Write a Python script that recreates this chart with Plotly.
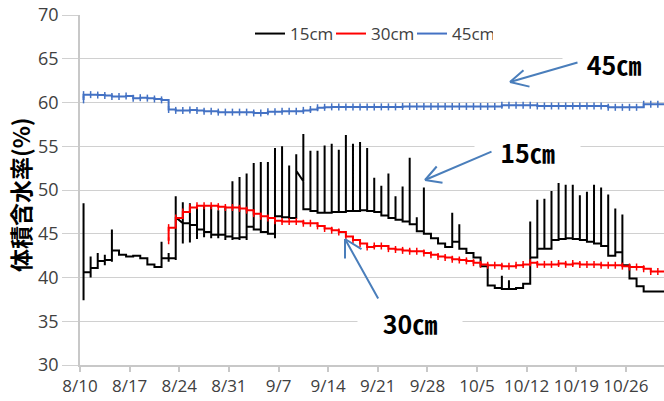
import plotly.graph_objects as go
import pandas as pd

# ---------------- data ----------------
base_date = "2013-08-10"
tick_dates = ["2013-08-10", "2013-08-17", "2013-08-24", "2013-08-31", "2013-09-07",
              "2013-09-14", "2013-09-21", "2013-09-28", "2013-10-05", "2013-10-12",
              "2013-10-19", "2013-10-26"]
tick_labels = ["8/10", "8/17", "8/24", "8/31", "9/7", "9/14", "9/21", "9/28",
               "10/5", "10/12", "10/19", "10/26"]

# 15cm : daily level, daily peak, daily dip, and level at end of day (where it drifted)
lvl15 = [40.6, 41.1, 41.9, 42.0, 43.1, 42.6, 42.4, 42.5, 42.2, 41.5,
         41.2, 42.2, 42.2, 46.9, 46.2, 46.0, 45.5, 45.2, 44.9, 44.9,
         44.7, 44.5, 44.6, 45.8, 45.5, 45.2, 45.0, 47.0, 46.9, 46.8,
         52.2, 47.8, 47.6, 47.4, 47.4, 47.5, 47.5, 47.6, 47.6, 47.7,
         47.6, 47.5, 47.1, 46.8, 46.6, 46.4, 46.1, 45.3, 45.0, 44.5,
         43.9, 43.5, 44.1, 43.3, 42.8, 42.3, 41.3, 39.1, 38.8, 38.7,
         38.7, 38.8, 39.3, 42.3, 43.3, 43.3, 44.3, 44.4, 44.5, 44.4,
         44.3, 44.1, 43.9, 43.6, 42.5, 42.9, 41.4, 39.9, 39.0, 38.4,
         38.4, 38.4, 38.4]
hi15 = [48.5, 42.4, 42.8, 42.6, 45.5, None, None, None, None, None,
        None, 44.1, 42.8, 49.3, 48.6, 48.5, 48.2, 48.3, 48.2, 47.7,
        48.0, 51.0, 51.5, 51.9, 53.1, 53.2, 53.2, 54.8, 55.0, 52.8,
        54.1, 56.4, 54.5, 54.5, 55.1, 55.3, 54.6, 56.3, 55.3, 55.5,
        54.8, 51.4, 50.5, 51.9, 49.3, 50.4, 53.7, 46.9, 50.3, None,
        None, None, 47.4, 46.1, None, None, None, None, None, 40.2,
        39.7, None, None, 46.4, 48.9, 49.0, 49.9, 50.8, 50.6, 50.6,
        49.4, 49.8, 50.6, 50.3, 49.5, 47.9, 47.2, None, None, None,
        None, None, None]
lo15 = [37.4, 40.0, 41.2, 41.4, 41.8, None, None, None, None, None,
        None, 41.1, 41.8, 42.0, 43.9, 44.0, 44.4, 44.6, 44.5, 44.5,
        44.3, 44.3, 44.3, 44.3, None, None, None, 44.5, None, None,
        None, None, None, None, None, None, None, None, None, None,
        None, None, None, None, None, None, None, None, None, None,
        None, None, None, None, None, None, None, None, None, None,
        None, None, None, None, None, None, None, None, None, None,
        None, None, None, None, None, None, None, None, None, None,
        None, None, None]
end15 = {13: 46.2, 30: 51.0}

# 30cm : starts on day 12
start_day30 = 12
first30 = 44.2
lvl30 = [45.7, 46.8, 47.5, 48.0, 48.2, 48.2, 48.2, 48.1, 48.0, 48.0,
         47.9, 47.7, 47.3, 47.0, 46.8, 46.5, 46.4, 46.4, 46.4, 46.2,
         46.2, 45.9, 45.6, 45.4, 45.2, 44.7, 44.3, 43.9, 43.5, 43.6,
         43.6, 43.3, 43.2, 43.1, 43.0, 43.0, 42.8, 42.6, 42.4, 42.3,
         42.1, 42.0, 41.9, 41.7, 41.5, 41.4, 41.4, 41.3, 41.3, 41.4,
         41.5, 41.7, 41.5, 41.5, 41.5, 41.6, 41.5, 41.6, 41.5, 41.5,
         41.5, 41.4, 41.4, 41.4, 41.3, 41.2, 41.2, 41.0, 40.7, 40.7,
         40.7]

# 45cm
first45 = 60.3
lvl45 = [60.9, 60.9, 60.85, 60.8, 60.7, 60.7, 60.75, 60.5, 60.55, 60.5,
         60.4, 60.3, 59.2, 59.1, 59.1, 59.15, 59.1, 59.0, 59.0, 58.9,
         58.9, 58.9, 58.9, 58.9, 58.8, 58.8, 58.95, 58.95, 59.0, 59.0,
         59.0, 59.1, 59.2, 59.4, 59.45, 59.5, 59.5, 59.5, 59.5, 59.5,
         59.5, 59.5, 59.5, 59.5, 59.5, 59.55, 59.55, 59.55, 59.55, 59.55,
         59.55, 59.55, 59.55, 59.55, 59.55, 59.55, 59.55, 59.55, 59.55, 59.7,
         59.7, 59.7, 59.7, 59.7, 59.6, 59.6, 59.6, 59.6, 59.6, 59.6,
         59.6, 59.6, 59.6, 59.6, 59.45, 59.45, 59.45, 59.45, 59.45, 59.8,
         59.8, 59.8, 59.8]

series_names = ["15cm", "30cm", "45cm"]
series_colors = ["#000000", "#ff0000", "#4472c4"]

# ---------------- build ----------------
base = pd.Timestamp(base_date)


def when(d):
    return base + pd.Timedelta(hours=24 * d)


bx, by = [], []
for i, v in enumerate(lvl15):
    t = when(i + 0.5)
    if i > 0:
        bx.append(t)
        by.append(end15.get(i - 1, lvl15[i - 1]))
    if hi15[i] is not None:
        bx.append(t); by.append(hi15[i])
    if lo15[i] is not None:
        bx.append(t); by.append(lo15[i])
    bx.append(t); by.append(v)
bx.append(when(len(lvl15) + 0.5)); by.append(lvl15[-1])

rx = [when(start_day30 + 0.5)] + [when(start_day30 + k + 0.5) for k in range(len(lvl30))] \
     + [when(start_day30 + len(lvl30) + 0.5)]
ry = [first30] + lvl30 + [lvl30[-1]]

ux = [when(0.5)] + [when(k + 0.5) for k in range(len(lvl45))] + [when(len(lvl45) + 0.5)]
uy = [first45] + lvl45 + [lvl45[-1]]

fig = go.Figure()
fig.add_trace(go.Scatter(x=bx, y=by, mode="lines", line=dict(color=series_colors[0], width=2),
                         showlegend=False, hoverinfo="skip"))
fig.add_trace(go.Scatter(x=rx, y=ry, mode="lines+markers", line=dict(color=series_colors[1], width=2, shape="hv"),
                         marker=dict(symbol="line-ns", size=5, line=dict(color=series_colors[1], width=1.5)),
                         showlegend=False, hoverinfo="skip"))
fig.add_trace(go.Scatter(x=ux, y=uy, mode="lines+markers", line=dict(color=series_colors[2], width=2, shape="hv"),
                         marker=dict(symbol="line-ns", size=5, line=dict(color=series_colors[2], width=1.5)),
                         showlegend=False, hoverinfo="skip"))
for n, c in zip(series_names, series_colors):
    fig.add_trace(go.Scatter(x=[None], y=[None], mode="lines", name=n, line=dict(color=c, width=2)))

# plot area geometry in pixels
L, R, T, B = 80, 664, 15, 365


def px(x, y):
    return (x - L) / (R - L), (B - y) / (B - T)


annotations = []
ax_title_x, ax_title_y = px(20, 195)
annotations.append(dict(text="<b>体積含水率(%)</b>", x=ax_title_x, y=ax_title_y, xref="paper", yref="paper",
                        showarrow=False, textangle=-90, xanchor="center", yanchor="middle",
                        font=dict(family="Noto Sans CJK JP", size=23, color="#000000")))

labels = [("45㎝", 614, 64, 100, 40), ("15㎝", 527, 152, 103, 34), ("30㎝", 410, 323, 102, 40)]
for txt, cx, cy, w, h in labels:
    xx, yy = px(cx, cy)
    annotations.append(dict(text="<b>" + txt + "</b>", x=xx, y=yy, xref="paper", yref="paper",
                            showarrow=False, xanchor="center", yanchor="middle", width=w, height=h,
                            bgcolor="#ffffff", font=dict(family="Noto Sans CJK JP", size=25, color="#000000")))

arrow_color = "#4a7ebb"
segments = [
    ((579, 62), (510, 82)), ((525, 69), (510, 82)), ((531, 87), (510, 82)),
    ((493, 151), (425, 180)), ((438, 165), (425, 180)), ((444, 183), (425, 180)),
    ((379, 300), (345, 239)), ((345, 260), (345, 239)), ((363, 250), (345, 239)),
]
for (x0, y0), (x1, y1) in segments:
    xx, yy = px(x1, y1)
    annotations.append(dict(text="", x=xx, y=yy, xref="paper", yref="paper", ax=x0 - x1, ay=y0 - y1,
                            showarrow=True, arrowhead=0, arrowwidth=2, arrowcolor=arrow_color,
                            standoff=0, startstandoff=0))

lgx, lgy = px(250, 34)

fig.update_layout(
    width=664, height=401,
    margin=dict(l=L, r=664 - R, t=T, b=401 - B, pad=0),
    paper_bgcolor="#ffffff", plot_bgcolor="#ffffff",
    font=dict(family="Open Sans", size=17, color="#404040"),
    xaxis=dict(type="date", range=[when(0), when((R - L) / 7.09)],
               tickvals=tick_dates, ticktext=tick_labels,
               showgrid=False, showline=True, linecolor="#c8c8c8", linewidth=1.5,
               ticks="outside", ticklen=5, tickcolor="#c8c8c8", tickwidth=1.5,
               tickfont=dict(size=17, color="#404040"), zeroline=False),
    yaxis=dict(range=[30, 70], dtick=5, tick0=30,
               showgrid=True, gridcolor="#d0d0d0", gridwidth=1.2,
               showline=True, linecolor="#c8c8c8", linewidth=1.5,
               ticks="outside", ticklen=16, tickcolor="#d0d0d0", tickwidth=1.2,
               tickfont=dict(size=18, color="#404040"), zeroline=False),
    legend=dict(orientation="h", x=lgx, y=lgy, xanchor="left", yanchor="middle",
                font=dict(size=17, color="#404040"), bgcolor="rgba(255,255,255,0)",
                itemwidth=30, tracegroupgap=0, entrywidth=36, entrywidthmode="pixels"),
    annotations=annotations,
)

fig.write_html("out.html", config={"displayModeBar": False},
               post_script="document.body.style.margin='0px';")
